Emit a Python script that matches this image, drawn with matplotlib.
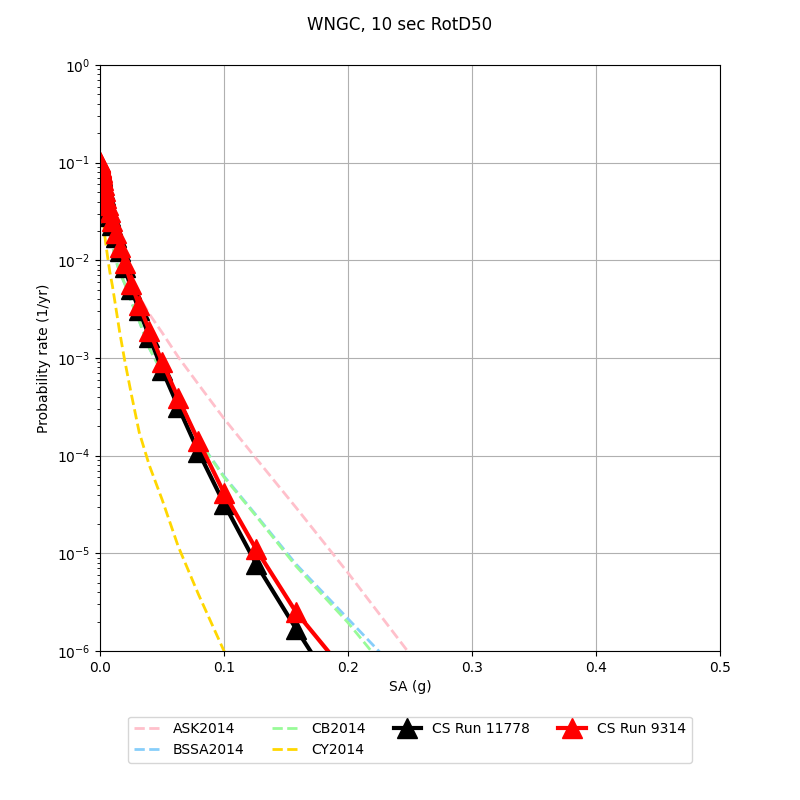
import numpy as np
import matplotlib
matplotlib.use("Agg")
import matplotlib.pyplot as plt

# Intensity measure levels (g)
im_levels = [0.0001, 0.000126, 0.000158, 0.0002, 0.000251, 0.000316, 0.000398, 0.000501,
             0.000631, 0.000794, 0.001, 0.00126, 0.00158, 0.002, 0.00251, 0.00316,
             0.00398, 0.00501, 0.00631, 0.00794, 0.01, 0.0126, 0.0158, 0.02, 0.0251,
             0.0316, 0.0398, 0.0501, 0.0631, 0.0794, 0.1, 0.126, 0.158, 0.2, 0.251, 0.316]

# log10 of annual rates
cs_9314_log = [-0.99, -0.995, -1.0, -1.005, -1.01, -1.02, -1.03, -1.04,
               -1.05, -1.06, -1.08, -1.10, -1.12, -1.15, -1.18, -1.23,
               -1.29, -1.36, -1.43, -1.51, -1.60, -1.72, -1.86, -2.03, -2.24,
               -2.46, -2.72, -3.04, -3.41, -3.85, -4.38, -4.96, -5.60, -6.25, -7.0, -8.0]
cs_11778_log = [-1.03, -1.035, -1.04, -1.045, -1.05, -1.06, -1.07, -1.08,
                -1.09, -1.10, -1.12, -1.14, -1.16, -1.19, -1.22, -1.27,
                -1.33, -1.40, -1.47, -1.55, -1.64, -1.76, -1.90, -2.07, -2.29,
                -2.51, -2.78, -3.12, -3.50, -3.96, -4.49, -5.11, -5.77, -6.6, -7.5, -8.6]
ask_log = [-0.99, -0.995, -1.0, -1.005, -1.01, -1.02, -1.03, -1.04,
           -1.05, -1.06, -1.08, -1.10, -1.12, -1.15, -1.18, -1.23,
           -1.29, -1.36, -1.43, -1.51, -1.60, -1.72, -1.86, -2.03, -2.20,
           -2.37, -2.55, -2.74, -2.99, -3.27, -3.62, -4.03, -4.53, -5.20, -6.05, -7.1]
bssa_log = [-0.99, -0.99, -1.0, -1.0, -1.01, -1.02, -1.03, -1.04,
            -1.06, -1.08, -1.10, -1.14, -1.17, -1.22, -1.28, -1.35,
            -1.43, -1.52, -1.62, -1.73, -1.85, -1.99, -2.12, -2.24, -2.42,
            -2.62, -2.90, -3.15, -3.45, -3.84, -4.21, -4.61, -5.11, -5.67, -6.35, -7.3]
cb_log = [-0.99, -0.99, -1.0, -1.0, -1.01, -1.02, -1.03, -1.04,
          -1.06, -1.08, -1.10, -1.14, -1.17, -1.22, -1.28, -1.35,
          -1.43, -1.52, -1.62, -1.73, -1.85, -1.99, -2.12, -2.24, -2.42,
          -2.62, -2.90, -3.15, -3.45, -3.84, -4.22, -4.62, -5.13, -5.71, -6.5, -7.5]
cy_log = [-0.99, -1.0, -1.01, -1.02, -1.03, -1.05, -1.07, -1.10,
          -1.13, -1.17, -1.22, -1.29, -1.36, -1.45, -1.54, -1.65,
          -1.76, -1.86, -1.98, -2.12, -2.26, -2.47, -2.73, -3.03, -3.36,
          -3.76, -4.10, -4.45, -4.93, -5.42, -6.0, -6.6, -7.3, -8.0, -8.8, -9.8]

x = np.array(im_levels)

fig = plt.figure(figsize=(8, 8), dpi=100)
ax = fig.add_axes([0.125, 0.18625, 0.775, 0.7325])

gmpes = [("ASK2014", ask_log, "pink"),
         ("BSSA2014", bssa_log, "lightskyblue"),
         ("CB2014", cb_log, "palegreen"),
         ("CY2014", cy_log, "gold")]
for name, vals, col in gmpes:
    ax.plot(x, 10.0 ** np.array(vals), linestyle="--", color=col, linewidth=2, label=name)

ax.plot(x, 10.0 ** np.array(cs_11778_log), color="black", linewidth=3,
        marker="^", markersize=14, label="CS Run 11778")
ax.plot(x, 10.0 ** np.array(cs_9314_log), color="red", linewidth=3,
        marker="^", markersize=14, label="CS Run 9314")

ax.set_yscale("log")
ax.set_xlim(0, 0.5)
ax.set_ylim(1e-6, 1)
ax.grid(True, which="major", color="#b0b0b0")
ax.set_xlabel("SA (g)")
ax.set_ylabel("Probability rate (1/yr)")
fig.suptitle("WNGC, 10 sec RotD50")
ax.legend(loc="upper center", bbox_to_anchor=(0.5, -0.1), ncol=4)

fig.savefig("out.png", dpi=100)
